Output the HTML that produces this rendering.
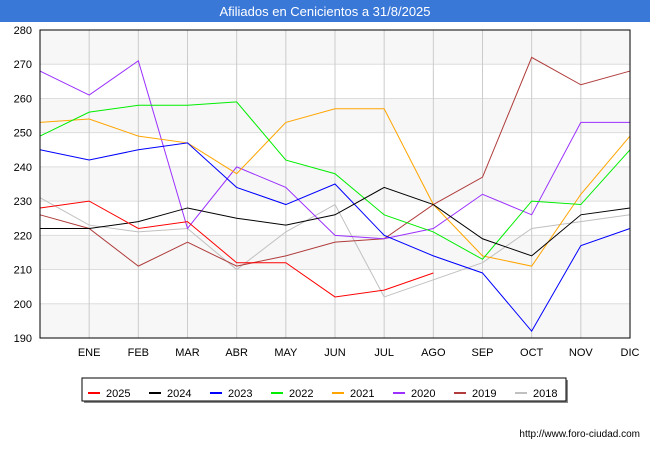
<!DOCTYPE html>
<html><head><meta charset="utf-8"><style>
body{margin:0;width:650px;height:450px;background:#fff;font-family:"Liberation Sans",sans-serif;}
</style></head><body>
<svg width="650" height="450">
<rect x="0" y="0" width="650" height="22" fill="#3a78d8"/>
<text x="325" y="16" text-anchor="middle" fill="#fff" font-size="13">Afiliados en Cenicientos a 31/8/2025</text>
<g id="grid"></g><g id="series"></g>
<rect x="40" y="30" width="590" height="308" fill="none" stroke="#000" stroke-width="1"/>
<g id="ticks" font-size="11" fill="#000"></g>
<rect x="84" y="380" width="484" height="23" fill="#888"/>
<rect x="82" y="378" width="484" height="23" fill="#fff" stroke="#000"/>
<g id="legend" font-size="11"></g>
<text x="640" y="437" text-anchor="end" font-size="10" fill="#000">http://www.foro-ciudad.com</text>
</svg>
<script>
const months=["","ENE","FEB","MAR","ABR","MAY","JUN","JUL","AGO","SEP","OCT","NOV","DIC"];
const yTicks=[190,200,210,220,230,240,250,260,270,280];
const years=["2025","2024","2023","2022","2021","2020","2019","2018"];
const colors=["#ff0000","#000000","#0000ff","#00ee00","#ffa500","#9b30ff","#b03c3c","#c0c0c0"];
const s2025=[228,230,222,224,212,212,202,204,209];
const s2024=[222,222,224,228,225,223,226,234,229,219,214,226,228];
const s2023=[245,242,245,247,234,229,235,220,214,209,192,217,222];
const s2022=[249,256,258,258,259,242,238,226,221,213,230,229,245];
const s2021=[253,254,249,247,238,253,257,257,229,214,211,232,249];
const s2020=[268,261,271,222,240,234,220,219,222,232,226,253,253];
const s2019=[226,222,211,218,211,214,218,219,229,237,272,264,268];
const s2018=[231,223,221,222,210,221,229,202,207,212,222,224,226];
const data=[s2025,s2024,s2023,s2022,s2021,s2020,s2019,s2018];
const NS="http://www.w3.org/2000/svg";
const X=i=>40+i*(590/12), Y=v=>338-(v-190)*(308/90);
function mk(t,a,p){const e=document.createElementNS(NS,t);for(const k in a)e.setAttribute(k,a[k]);p.appendChild(e);return e;}
const g=document.getElementById("grid"),tk=document.getElementById("ticks"),sg=document.getElementById("series"),lg=document.getElementById("legend");
for(let i=0;i<yTicks.length-1;i++){if(i%2==0){const r=mk("rect",{x:40,y:Y(yTicks[i+1]),width:590,height:Y(yTicks[i])-Y(yTicks[i+1]),fill:"#f7f7f7"},g);

}}
yTicks.forEach(v=>{const l=mk("line",{x1:40,x2:630,y1:Y(v),y2:Y(v),stroke:"#ddd"},g);


const t=mk("text",{x:32,y:Y(v)+4,"text-anchor":"end"},tk);t.textContent=v;

});
months.forEach((m,i)=>{if(i==0)return;const l=mk("line",{x1:X(i),x2:X(i),y1:30,y2:338,stroke:"#ccc"},g);


const t=mk("text",{x:X(i),y:356,"text-anchor":"middle"},tk);t.textContent=m;

});
for(let k=data.length-1;k>=0;k--){const p=mk("polyline",{points:data[k].map((v,i)=>X(i)+","+Y(v)).join(" "),fill:"none",stroke:colors[k],"stroke-width":1},sg);

}
years.forEach((y,k)=>{const x=88+k*61;const l=mk("line",{x1:x,x2:x+12,y1:393,y2:393,stroke:colors[k],"stroke-width":2},lg);


const t=mk("text",{x:x+18,y:397},lg);t.textContent=y;

});
</script>
</body></html>
